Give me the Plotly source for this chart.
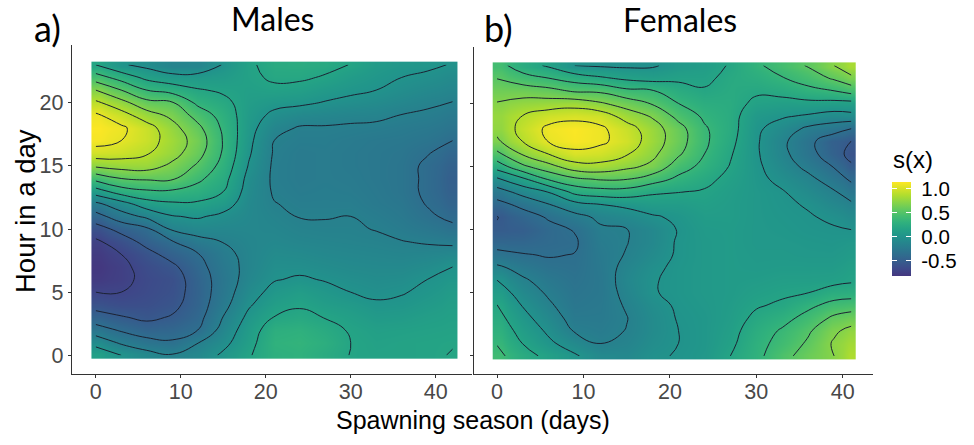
import numpy as np
import plotly.graph_objects as go
from plotly.colors import sample_colorscale

hours = list(range(24))
male_days = [0, 3, 6, 9, 12, 15, 18, 21, 24, 27, 30, 33, 36, 39, 42]
female_days = [0, 3, 6, 9, 12, 15, 18, 21, 24, 27, 30, 33, 36, 39, 41]
x_ticks = [0, 10, 20, 30, 40]
y_ticks = [0, 5, 10, 15, 20]
scale_ticks = [-0.5, 0.0, 0.5, 1.0]
scale_labels = ["-0.5", "0.0", "0.5", "1.0"]

# each inner list: s(x) per hour 0..23 for one day column
males_by_day = [
 [.12,-.06,-.27,-.45,-.59,-.70,-.78,-.81,-.78,-.73,-.60,-.42,-.21,.10,.41,.73,.98,1.11,1.13,1.08,.91,.70,.43,.175],
 [.0,-.2,-.37,-.51,-.63,-.70,-.74,-.74,-.70,-.61,-.47,-.25,-.07,.27,.525,.77,.96,1.05,1.08,.95,.76,.525,.28,.02],
 [-.1,-.29,-.44,-.56,-.62,-.65,-.66,-.64,-.58,-.47,-.38,-.14,.10,.33,.55,.78,.89,.95,.95,.78,.58,.35,.13,-.05],
 [-.16,-.33,-.42,-.51,-.57,-.60,-.61,-.56,-.46,-.36,-.15,-.01,.15,.33,.55,.66,.77,.8,.76,.66,.54,.28,.06,-.14],
 [-.1,-.18,-.35,-.41,-.44,-.45,-.44,-.41,-.36,-.23,-.1,.02,.15,.28,.39,.5,.59,.63,.57,.46,.31,.19,.06,-.13],
 [.03,-.05,-.11,-.17,-.23,-.26,-.27,-.25,-.22,-.17,-.11,-.04,.08,.18,.24,.29,.33,.34,.32,.28,.22,.15,.08,.01],
 [.16,.12,.09,.04,-.02,-.07,-.11,-.13,-.13,-.12,-.11,-.10,-.09,-.07,-.05,-.01,.02,.04,.06,.08,.1,.12,.14,.15],
 [.28,.30,.27,.18,.11,.05,-.01,-.04,-.07,-.10,-.12,-.14,-.17,-.19,-.2,-.2,-.19,-.175,-.12,-.04,.05,.14,.2,.23],
 [.3,.32,.29,.21,.16,.1,.02,-.04,-.08,-.12,-.15,-.18,-.2,-.22,-.23,-.23,-.23,-.21,-.19,-.09,.03,.12,.2,.24],
 [.24,.27,.23,.17,.1,.05,-.01,-.06,-.1,-.13,-.16,-.18,-.2,-.21,-.22,-.22,-.22,-.21,-.19,-.11,-.01,.07,.16,.22],
 [.17,.175,.16,.12,.07,0,-.04,-.08,-.11,-.14,-.16,-.175,-.2,-.22,-.23,-.24,-.24,-.23,-.2,-.13,-.04,.03,.09,.17],
 [.15,.14,.12,.07,.02,-.03,-.06,-.09,-.12,-.15,-.18,-.21,-.24,-.25,-.26,-.26,-.26,-.25,-.21,-.14,-.07,0,.04,.08],
 [.15,.15,.13,.08,.03,-.01,-.05,-.09,-.13,-.17,-.22,-.25,-.27,-.29,-.29,-.29,-.28,-.26,-.23,-.18,-.11,-.05,0,.04],
 [.16,.16,.14,.11,.07,.03,0,-.06,-.12,-.19,-.26,-.32,-.36,-.38,-.38,-.38,-.34,-.29,-.25,-.2,-.15,-.09,-.03,.03],
 [.18,.17,.15,.13,.11,.08,.04,0,-.1,-.21,-.31,-.39,-.44,-.47,-.48,-.46,-.42,-.35,-.29,-.24,-.18,-.12,-.07,-.01],
]
females_by_day = [
 [.40,.34,.29,.235,.18,.095,0,-.14,-.30,-.42,-.51,-.53,-.41,-.25,-.03,.25,.48,.67,.75,.77,.71,.62,.52,.42],
 [.24,.17,.11,.05,-.01,-.08,-.15,-.24,-.34,-.42,-.49,-.43,-.30,-.11,.14,.49,.72,.88,.93,.88,.76,.62,.42,.25],
 [.13,.03,-.03,-.09,-.15,-.2,-.25,-.31,-.36,-.39,-.4,-.33,-.18,.01,.37,.64,.88,1.06,1.09,.97,.78,.58,.35,.15],
 [.02,-.08,-.19,-.24,-.27,-.29,-.31,-.33,-.345,-.37,-.34,-.23,-.06,.23,.49,.8,1.01,1.12,1.13,1.0,.8,.5,.27,0],
 [-.09,-.18,-.22,-.24,-.25,-.26,-.26,-.25,-.24,-.22,-.2,-.14,0,.28,.54,.82,.98,1.08,1.08,.97,.72,.49,.2,-.02],
 [-.1,-.14,-.17,-.18,-.16,-.13,-.11,-.13,-.165,-.18,-.18,-.09,.04,.28,.53,.74,.89,.98,.95,.8,.62,.39,.14,-.03],
 [-.02,-.05,-.07,-.07,-.05,-.01,-.01,-.03,-.07,-.1,-.1,-.02,.09,.2,.43,.66,.74,.79,.78,.68,.51,.36,.11,-.02],
 [.01,0,0,.01,.02,.03,.03,.03,.02,.02,.01,.03,.09,.18,.31,.43,.55,.6,.59,.47,.35,.25,.14,.06],
 [.05,.04,.04,.04,.05,.06,.06,.06,.06,.06,.07,.09,.12,.16,.22,.30,.35,.38,.37,.32,.26,.19,.14,.1],
 [.175,.14,.12,.1,.09,.08,.08,.08,.08,.08,.08,.09,.09,.1,.13,.165,.19,.22,.24,.24,.24,.23,.22,.19],
 [.3,.29,.26,.21,.16,.12,.09,.07,.06,.05,.05,.05,.05,.05,.04,.03,.02,.02,.03,.06,.14,.2,.26,.32],
 [.47,.41,.37,.29,.2,.15,.11,.08,.06,.05,.04,.03,.02,.01,-.04,-.09,-.13,-.14,-.08,.02,.12,.23,.34,.43],
 [.6,.55,.5,.41,.31,.175,.11,.08,.05,.04,.02,.01,-.01,-.07,-.13,-.22,-.29,-.3,-.21,-.02,.13,.3,.43,.54],
 [.7,.72,.67,.56,.41,.26,.12,.08,.05,.03,.01,-.02,-.09,-.16,-.26,-.36,-.45,-.47,-.27,-.07,.12,.35,.55,.7],
 [.85,.81,.75,.61,.44,.27,.15,.12,.08,.05,0,-.07,-.15,-.26,-.38,-.5,-.58,-.53,-.35,-.05,.12,.42,.66,.83],
]

W, H = 974, 445
Z_MIN, Z_MAX = -0.817, 1.137
INK = "#333333"
LINE = "#1c2233"
SCALE = [[t, c] for t, c in zip(np.linspace(0, 1, 15),
                                sample_colorscale("Viridis", list(np.linspace(0.16, 1, 15))))]


def edges(c, pad):
    c = list(c)
    mids = [(a + b) / 2 for a, b in zip(c[:-1], c[1:])]
    return [c[0] - pad] + mids + [c[-1] + pad]


def dom(p0, p1, size):
    return [p0 / size, p1 / size]


fig = go.Figure()
panels = [
    (male_days, males_by_day, "x", "y", "coloraxis"),
    (female_days, females_by_day, "x2", "y2", "coloraxis2"),
]
for days, cols, xa, ya, ca in panels:
    z = np.array(cols).T
    fig.add_trace(go.Heatmap(x=edges(days, 0.5), y=edges(hours, 0.25), z=z, zsmooth="best",
                             xaxis=xa, yaxis=ya, coloraxis=ca, hoverinfo="skip"))
    fig.add_trace(go.Contour(x=days, y=hours, z=z, xaxis=xa, yaxis=ya, showscale=False,
                             contours=dict(coloring="none", start=-0.7, end=1.05, size=0.175),
                             line=dict(color=LINE, width=1, smoothing=1.3), hoverinfo="skip"))

axis = dict(showgrid=False, zeroline=False, showline=True, linecolor=INK, linewidth=1.4,
            ticks="outside", ticklen=3, tickcolor=INK, tickwidth=1,
            tickfont=dict(family="Liberation Sans", size=21.5, color="#484848"))
fig.update_layout(
    width=W, height=H, margin=dict(l=0, r=0, t=0, b=0, autoexpand=False),
    paper_bgcolor="white", plot_bgcolor="white", showlegend=False,
    xaxis=dict(axis, domain=dom(72, 472, W), range=[-2.79, 44.27], tickvals=x_ticks, anchor="y",
               ticklabelstandoff=-5),
    yaxis=dict(axis, domain=dom(71, 400, H), range=[-1.48, 24.57], tickvals=y_ticks, anchor="x"),
    xaxis2=dict(axis, domain=dom(474.3, 873, W), range=[-2.63, 43.5], tickvals=x_ticks, anchor="y2",
                ticklabelstandoff=-5),
    yaxis2=dict(axis, domain=dom(71, 398, H), range=[-1.43, 24.47], tickvals=y_ticks,
                showticklabels=False, anchor="x2"),
    coloraxis=dict(colorscale=SCALE, cmin=Z_MIN, cmax=Z_MAX,
                   colorbar=dict(x=892 / W, xanchor="left", y=(H - 229) / H, yanchor="middle",
                                 thickness=5, thicknessmode="pixels", len=94, lenmode="pixels",
                                 xpad=0, ypad=0, outlinewidth=0, ticks="inside", ticklen=5,
                                 tickcolor="white", tickwidth=1, tickvals=scale_ticks,
                                 showticklabels=False)),
    coloraxis2=dict(colorscale=SCALE, cmin=Z_MIN, cmax=Z_MAX,
                    colorbar=dict(x=897 / W, xanchor="left", y=(H - 229) / H, yanchor="middle",
                                  thickness=14, thicknessmode="pixels", len=94, lenmode="pixels",
                                  xpad=0, ypad=0, outlinewidth=0, ticks="inside", ticklen=5,
                                  tickcolor="white", tickwidth=1, tickvals=scale_ticks,
                                  ticktext=["\u00a0" + s for s in scale_labels],
                                  tickfont=dict(family="Liberation Sans", size=20.5, color="black"))),
)


def note(text, px, py, size, family="Lato", angle=0):
    fig.add_annotation(text=text, x=px / W, y=1 - py / H, xref="paper", yref="paper", showarrow=False,
                       xanchor="center", yanchor="middle", textangle=angle,
                       font=dict(family=family, size=size, color="black"))


note("a)", 47, 28, 36)
note("b)", 499, 28, 36)
note("Males", 272, 18, 32)
note("Females", 680, 19, 32)
note("Spawning season (days)", 473, 420, 25, "Liberation Sans")
note("Hour in a day", 25, 211, 27.5, "Liberation Sans", -90)
note("s(x)", 913, 159, 24, "Liberation Sans")

fig.write_html("out.html", config=dict(displayModeBar=False),
               post_script="document.body.style.margin='0';")
